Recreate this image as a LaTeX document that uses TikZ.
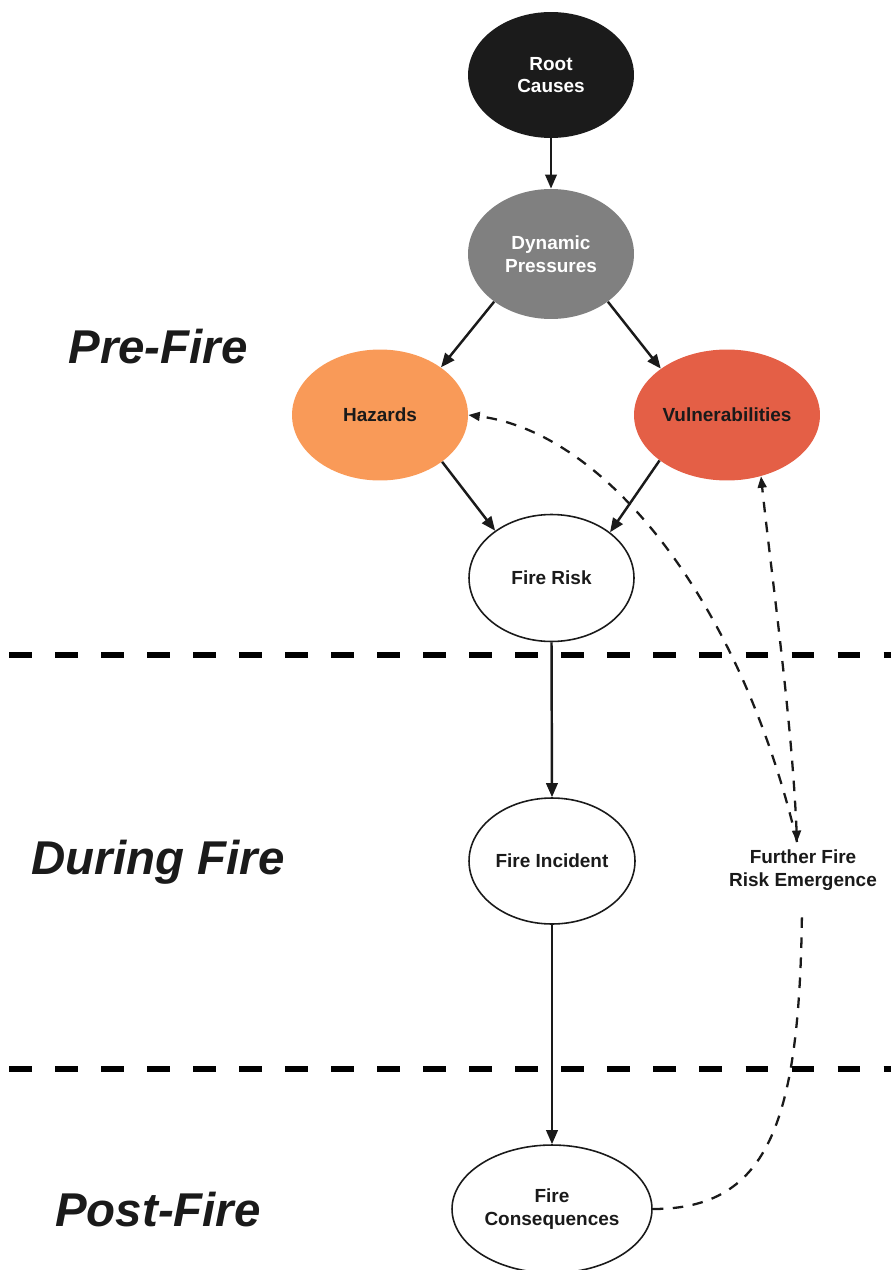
\documentclass[tikz,border=0pt]{standalone}
\usepackage{fontspec}
\setmainfont{Liberation Sans}
\usetikzlibrary{shapes.geometric,arrows.meta}
\definecolor{txt}{HTML}{1A1A1A}
\definecolor{rootc}{HTML}{1B1B1B}
\definecolor{dync}{HTML}{808080}
\definecolor{hazc}{HTML}{F99A58}
\definecolor{vulc}{HTML}{E45F46}
\begin{document}
\begin{tikzpicture}[x=0.02cm,y=-0.02cm,
  el/.style={ellipse,inner sep=0pt,align=center,font=\fontsize{10.8}{13}\selectfont\bfseries,text=txt},
  wel/.style={el,draw=txt,line width=0.9pt,fill=white},
  arr/.style={-{Triangle[length=8pt,width=6.5pt]},line width=1.4pt,draw=txt},
  darr/.style={line width=1.3pt,dash pattern=on 6pt off 5.4pt,draw=txt},
  sepline/.style={line width=3.4pt,dash pattern=on 13pt off 13.2pt,draw=black},
  phase/.style={font=\fontsize{27}{32}\selectfont\bfseries\itshape,text=txt}]
\useasboundingbox (0,0) rectangle (891,1270);
% separators
\draw[sepline] (9,655) -- (891,655);
\draw[sepline] (9,1069) -- (891,1069);
% phase labels
\node[phase] (pre) at (158,347) {Pre-Fire};
\node[phase] (during) at (158,862) {During Fire};
\node[phase] (post) at (158,1210) {Post-Fire};
% nodes
\node[el,fill=rootc,text=white,minimum width=3.32cm,minimum height=2.52cm] (root) at (551,75) {Root\\Causes};
\node[el,fill=dync,text=white,minimum width=3.32cm,minimum height=2.6cm] (dyn) at (551,254) {Dynamic\\Pressures};
\node[el,fill=hazc,minimum width=3.52cm,minimum height=2.62cm] (haz) at (380,415) {Hazards};
\node[el,fill=vulc,minimum width=3.72cm,minimum height=2.62cm] (vul) at (727,415) {Vulnerabilities};
\node[wel,minimum width=3.3cm,minimum height=2.54cm] (fr) at (551.5,578) {Fire Risk};
\node[wel,minimum width=3.32cm,minimum height=2.52cm] (fi) at (552,861) {Fire Incident};
\node[wel,minimum width=4.0cm,minimum height=2.56cm] (cons) at (552,1209) {Fire\\Consequences};
\node[el,ellipse=false,rectangle,inner sep=0pt] (emer) at (803,870) {Further Fire\\Risk Emergence};
\coordinate (ltop) at (797,842);
\coordinate (lbot) at (802,908);
% solid connectors
\draw[arr] (root.south) -- (dyn.north);
\draw[arr] (dyn.220.6) -- (haz.38.2);
\draw[arr] (dyn.320.4) -- (vul.145.7);
\draw[arr] (haz.-37.7) -- (fr.140.3);
\draw[arr] (vul.214.3) -- (fr.38.6);
\draw[arr] (fr.south) -- (fi.north);
\draw[arr] (fi.south) -- (cons.north);
% dashed feedback
\draw[darr] (cons.east) .. controls (770,1209) and (800,1120) .. (lbot);
\draw[darr,-{Triangle[length=6.5pt,width=5pt]}] (ltop) .. controls (740,600) and (605,432) .. (haz.east);
\draw[darr,{Triangle[length=6.5pt,width=5pt]}-{Triangle[length=6.5pt,width=5pt]}] (ltop) .. controls (792,720) and (772,580) .. (vul.-61);
\end{tikzpicture}
\end{document}
